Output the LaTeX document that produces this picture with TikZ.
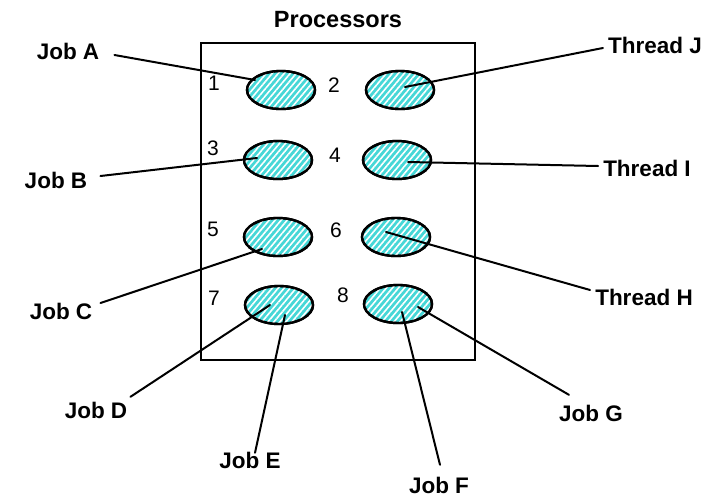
\documentclass[tikz,border=0pt]{standalone}
\usepackage{fontspec}
\setmainfont{Liberation Sans}
\usetikzlibrary{shapes.geometric,patterns.meta}
\definecolor{cyanfill}{RGB}{70,215,215}
\begin{document}
\begin{tikzpicture}[x=1pt,y=-1pt,
  proc/.style={ellipse,draw=black,line width=2.4pt,minimum width=68pt,minimum height=38pt,inner sep=0pt,
    fill=cyanfill,postaction={pattern={Lines[angle=50,distance=4.6pt,line width=1.6pt]},pattern color=white},
    postaction={draw=black,line width=2.4pt}},
  lbl/.style={font=\fontsize{22.5}{26}\selectfont\bfseries,inner sep=0pt,text height=16pt,text depth=0pt},
  num/.style={font=\fontsize{21}{24}\selectfont,inner sep=0pt,text height=15pt,text depth=0pt},
  conn/.style={line width=2pt,line cap=round}]
\useasboundingbox (0,0) rectangle (711,498);
\fill[white] (0,0) rectangle (711,498);
\node[draw=black,line width=2.2pt,minimum width=274pt,minimum height=317pt,inner sep=0pt,anchor=north west] (box) at (200,42) {};
\node[lbl,font=\fontsize{23.5}{27}\selectfont\bfseries] (title) at (338,19) {Processors};
% processors
\node[proc] (e1) at (281,90) {};
\node[proc] (e2) at (400,90) {};
\node[proc] (e3) at (278,160) {};
\node[proc] (e4) at (397,160) {};
\node[proc] (e5) at (278,237) {};
\node[proc] (e6) at (396,237) {};
\node[proc] (e7) at (279,305) {};
\node[proc] (e8) at (398,304) {};
% numbers
\node[num] (n1) at (214,83) {1};
\node[num] (n2) at (334,85) {2};
\node[num] (n3) at (213,148) {3};
\node[num] (n4) at (335,155) {4};
\node[num] (n5) at (213,229) {5};
\node[num] (n6) at (336,230) {6};
\node[num] (n7) at (214,298) {7};
\node[num] (n8) at (343,295) {8};
% labels
\node[lbl] (ja) at (68,51) {Job A};
\node[lbl] (jb) at (56,180) {Job B};
\node[lbl] (jc) at (61,311) {Job C};
\node[lbl] (jd) at (96,410) {Job D};
\node[lbl] (je) at (250,460) {Job E};
\node[lbl] (jf) at (439,485) {Job F};
\node[lbl] (jg) at (591,413) {Job G};
\node[lbl] (tj) at (655,45) {Thread J};
\node[lbl] (ti) at (647,168) {Thread I};
\node[lbl] (th) at (644,297) {Thread H};
% end points inside the processors
\coordinate (p1) at (255,80);
\coordinate (p2) at (405,87);
\coordinate (p3) at (257,158);
\coordinate (p4) at (408,162);
\coordinate (p5) at (262,249);
\coordinate (p6) at (386,232);
\coordinate (p7) at (270,305);
\coordinate (p7b) at (285,315);
\coordinate (p8) at (402,312);
\coordinate (p8b) at (418,307);
% connectors
\draw[conn] ([shift={(15,4)}]ja.east) -- (p1);
\draw[conn] ([shift={(13,-4)}]jb.east) -- (p3);
\draw[conn] ([shift={(8,-8)}]jc.east) -- (p5);
\draw[conn] ([shift={(3,-5)}]jd.north east) -- (p7);
\draw[conn] ([shift={(5,1)}]je.north) -- (p7b);
\draw[conn] ([shift={(1,-12)}]jf.north) -- (p8);
\draw[conn] ([shift={(10,-10)}]jg.north west) -- (p8b);
\draw[conn] ([shift={(-5,3)}]tj.west) -- (p2);
\draw[conn] ([shift={(-5,-2)}]ti.west) -- (p4);
\draw[conn] ([shift={(-5,-7)}]th.west) -- (p6);
\end{tikzpicture}
\end{document}
